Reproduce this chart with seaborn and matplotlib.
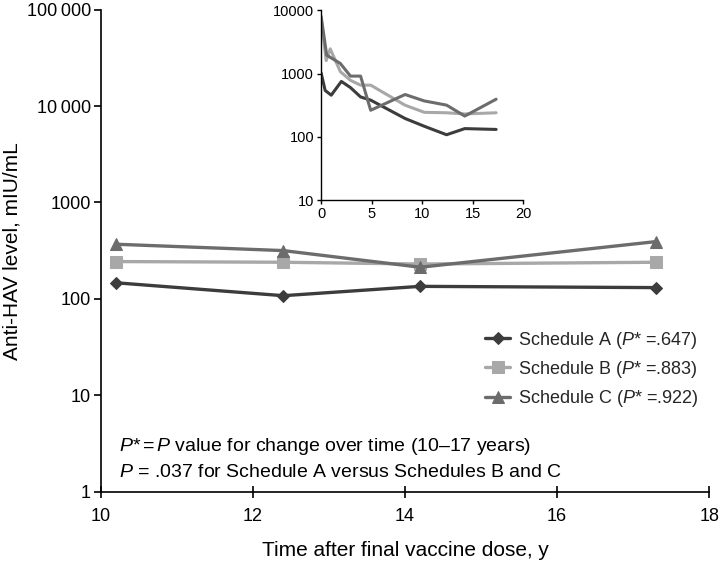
import numpy as np
import pandas as pd
import seaborn as sns
import matplotlib
matplotlib.use("Agg")
import matplotlib.pyplot as plt
from matplotlib.ticker import FixedLocator, FixedFormatter, NullLocator

sns.set_theme(style="white")
plt.rcParams['font.family'] = ['Liberation Sans', 'DejaVu Sans']
plt.rcParams['mathtext.fontset'] = 'custom'
plt.rcParams['mathtext.rm'] = 'Liberation Sans'
plt.rcParams['mathtext.it'] = 'Liberation Sans:italic'

# main chart data (10-17 years)
years = [10.2, 12.4, 14.2, 17.3]
sched_a = [147, 108, 135, 131]
sched_b = [244, 240, 230, 240]
sched_c = [369, 317, 213, 393]

# inset data (full follow-up)
inset_a_x = [0, 0.4, 1.0, 2.0, 2.9, 3.9, 4.9, 8.3, 10.2, 12.4, 14.2, 17.3]
inset_a_y = [1020, 540, 455, 750, 600, 427, 380, 195, 147, 108, 135, 131]
inset_b_x = [0, 0.5, 0.9, 1.9, 2.9, 3.9, 4.9, 8.3, 10.2, 12.4, 14.2, 17.3]
inset_b_y = [7500, 1600, 2450, 1070, 780, 655, 655, 316, 244, 240, 230, 240]
inset_c_x = [0, 0.55, 1.9, 2.9, 3.9, 4.9, 8.3, 10.2, 12.4, 14.2, 17.3]
inset_c_y = [8000, 1950, 1440, 910, 910, 263, 466, 369, 317, 213, 393]

labels = ["Schedule A ($P$* =.647)", "Schedule B ($P$* =.883)", "Schedule C ($P$* =.922)"]
colors = ["#3c3c3c", "#a8a8a8", "#6c6c6c"]
markers = ["D", "s", "^"]
ytick_vals = [1, 10, 100, 1000, 10000, 100000]
ytick_labels = ["1", "10", "100", "1000", "10\u2009000", "100\u2009000"]

fig = plt.figure(figsize=(7.2, 5.64), dpi=100)
ax = fig.add_axes([0.140, 0.128, 0.845, 0.855])

for vals, lab, col, mk in zip([sched_a, sched_b, sched_c], labels, colors, markers):
    sns.lineplot(x=years, y=vals, ax=ax, color=col, marker=mk, markersize=8 if mk != "D" else 6,
                 markeredgecolor=col, linewidth=2.4, label=lab)

ax.set_yscale("log")
ax.set_ylim(1, 100000)
ax.set_xlim(10, 18)
ax.yaxis.set_major_locator(FixedLocator(ytick_vals))
ax.yaxis.set_major_formatter(FixedFormatter(ytick_labels))
ax.yaxis.set_minor_locator(NullLocator())
ax.set_xticks([10, 12, 14, 16, 18])
for s in ["top", "right"]:
    ax.spines[s].set_visible(False)
for s in ["left", "bottom"]:
    ax.spines[s].set_color("black")
    ax.spines[s].set_linewidth(1.2)
ax.tick_params(axis="y", left=True, direction="out", length=5, width=1.2, labelsize=13,
               colors="black", pad=2)
ax.tick_params(axis="x", bottom=True, direction="inout", length=8, width=1.2, labelsize=13,
               colors="black", pad=8)
ax.set_ylabel("Anti-HAV level, mIU/mL", fontsize=15, color="black", labelpad=4)
ax.set_xlabel("Time after final vaccine dose, y", fontsize=15, color="black", labelpad=11)

leg = ax.legend(loc="upper left", bbox_to_anchor=(0.605, 0.37), frameon=False, fontsize=13,
                handlelength=1.4, handletextpad=0.4, labelspacing=0.45)

ax.text(0.03, 0.093, "$P$*$\\,$=$\\,$$P$ value for change over time (10\u201317 years)",
        transform=ax.transAxes, fontsize=14, color="black", va="center")
ax.text(0.03, 0.041, "$P$ = .037 for Schedule A versus Schedules B and C",
        transform=ax.transAxes, fontsize=14, color="black", va="center")

# inset
ins = fig.add_axes([0.446, 0.645, 0.281, 0.337])
for xs, ys, col in zip([inset_a_x, inset_b_x, inset_c_x], [inset_a_y, inset_b_y, inset_c_y], colors):
    sns.lineplot(x=xs, y=ys, ax=ins, color=col, linewidth=2.2, sort=False)
ins.set_yscale("log")
ins.set_ylim(10, 10000)
ins.set_xlim(0, 20)
ins.yaxis.set_major_locator(FixedLocator([10, 100, 1000, 10000]))
ins.yaxis.set_major_formatter(FixedFormatter(["10", "100", "1000", "10000"]))
ins.yaxis.set_minor_locator(NullLocator())
ins.set_xticks([0, 5, 10, 15, 20])
ins.set_facecolor("none")
for s in ["top", "right"]:
    ins.spines[s].set_visible(False)
for s in ["left", "bottom"]:
    ins.spines[s].set_color("black")
    ins.spines[s].set_linewidth(1.0)
ins.tick_params(axis="both", direction="out", length=3, width=1.0, labelsize=10.5, colors="black",
                left=True, bottom=True, pad=2)

fig.savefig("out.png", dpi=100)
